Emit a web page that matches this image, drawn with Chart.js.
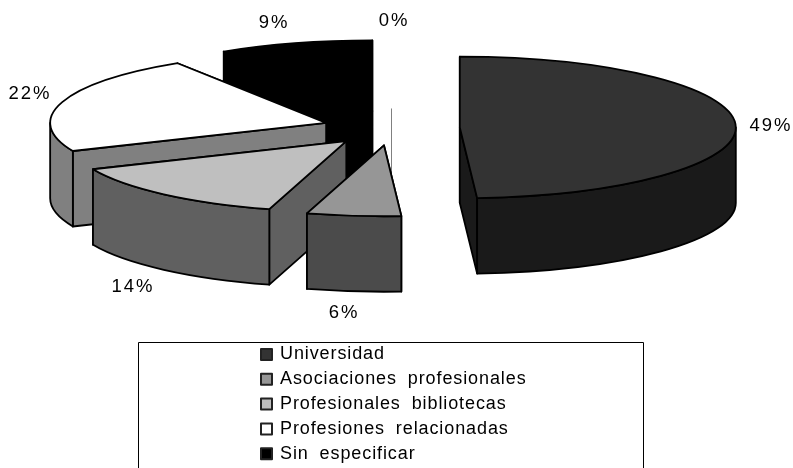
<!DOCTYPE html>
<html>
<head>
<meta charset="utf-8">
<style>
  html, body { margin: 0; padding: 0; background: #fff; }
  canvas { display: block; }
</style>
<script src="https://cdn.jsdelivr.net/npm/chart.js@4"></script>
</head>
<body>
<canvas id="myChart" width="793" height="468"></canvas>
<script>
// Datos (las etiquetas muestran el valor redondeado)
const categories = ['Universidad', 'Asociaciones profesionales', 'Profesionales bibliotecas', 'Profesiones relacionadas', 'Sin especificar', ''];
const values = [49, 5.5, 14, 22.45, 9.05, 0];

// Colores de la cara superior y del lateral
const topColors = ['#333333', '#969696', '#bfbfbf', '#ffffff', '#000000', '#808080'];
const sideColors = ['#1a1a1a', '#4b4b4b', '#606060', '#808080', '#000000', '#808080'];

// Posicion de las etiquetas de porcentaje (centro del texto)
const labelPos = [[771, 126], [344, 313], [133, 287], [30, 94], [274, 23], [394, 21]];

// Geometria de la tarta "3D" en pantalla
const pie3d = { cx: 391.5, cy: 128, rx: 276, ry: 70.8, depth: 75.5 };
const explode = 155;

const legendBox = { left: 138, top: 342, right: 643, bottom: 469 };
const legendRows = { swatchX: 261, textX: 280, firstY: 354.5, step: 24.8, swatch: 11 };

const FONT = '"Liberation Sans", Arial, sans-serif';

// Convierte un arco de Chart.js en sus puntos en pantalla
function slice3d(arc) {
  const sx = pie3d.rx / arc.outerRadius;
  const sy = pie3d.ry / arc.outerRadius;
  const mid = (arc.startAngle + arc.endAngle) / 2;
  const off = arc.options.offset / 4;
  const ax = pie3d.cx + Math.cos(mid) * off * sx;
  const ay = pie3d.cy + Math.sin(mid) * off * sy;
  const point = a => [ax + Math.cos(a) * pie3d.rx, ay + Math.sin(a) * pie3d.ry];
  return { ax, ay, start: arc.startAngle, end: arc.endAngle, point };
}

function drawCutFace(ctx, s, corner, fill) {
  const d = pie3d.depth;
  ctx.beginPath();
  ctx.moveTo(s.ax, s.ay);
  ctx.lineTo(corner[0], corner[1]);
  ctx.lineTo(corner[0], corner[1] + d);
  ctx.lineTo(s.ax, s.ay + d);
  ctx.closePath();
  ctx.fillStyle = fill;
  ctx.fill();
  ctx.stroke();
}

function drawSlice(ctx, s, top, side) {
  const d = pie3d.depth;
  ctx.lineWidth = 1.8;
  ctx.lineJoin = 'round';
  ctx.strokeStyle = '#000';

  // caras de corte: primero la de atras
  const corners = [s.point(s.start), s.point(s.end)].sort((a, b) => a[1] - b[1]);
  corners.forEach(c => drawCutFace(ctx, s, c, side));

  // lateral curvo, solo la parte que mira hacia delante
  const from = Math.max(s.start, 0);
  const to = Math.min(s.end, Math.PI);
  if (to > from) {
    ctx.beginPath();
    ctx.ellipse(s.ax, s.ay, pie3d.rx, pie3d.ry, 0, from, to);
    ctx.ellipse(s.ax, s.ay + d, pie3d.rx, pie3d.ry, 0, to, from, true);
    ctx.closePath();
    ctx.fillStyle = side;
    ctx.fill();
    ctx.stroke();
  }

  // cara superior
  ctx.beginPath();
  ctx.moveTo(s.ax, s.ay);
  ctx.ellipse(s.ax, s.ay, pie3d.rx, pie3d.ry, 0, s.start, s.end);
  ctx.closePath();
  ctx.fillStyle = top;
  ctx.fill();
  ctx.stroke();
}

const pie3dPlugin = {
  id: 'pie3d',
  beforeDatasetDraw() {
    return false; // la tarta plana no se pinta, se pinta abajo
  },
  afterDatasetsDraw(chart) {
    const ctx = chart.ctx;
    const arcs = chart.getDatasetMeta(0).data;
    const slices = arcs.map((arc, i) => ({ i, s: slice3d(arc) }));
    slices.sort((a, b) => a.s.ay - b.s.ay);

    ctx.save();
    slices.forEach(({ i, s }) => {
      if (values[i] === 0) {
        // sector de 0%: solo se ve una linea fina
        ctx.beginPath();
        ctx.moveTo(s.ax, s.ay - 2);
        ctx.lineTo(s.ax, s.ay + pie3d.depth);
        ctx.lineWidth = 1;
        ctx.strokeStyle = sideColors[i];
        ctx.stroke();
      } else {
        drawSlice(ctx, s, topColors[i], sideColors[i]);
      }
    });

    // etiquetas
    ctx.font = '18.5px ' + FONT;
    ctx.letterSpacing = '2px';
    ctx.fillStyle = '#000';
    ctx.textAlign = 'center';
    ctx.textBaseline = 'middle';
    values.forEach((v, i) => {
      ctx.fillText(Math.round(v) + '%', labelPos[i][0], labelPos[i][1]);
    });

    // leyenda
    ctx.strokeStyle = '#000';
    ctx.lineWidth = 1;
    ctx.beginPath();
    ctx.moveTo(legendBox.left + 0.5, legendBox.bottom);
    ctx.lineTo(legendBox.left + 0.5, legendBox.top + 0.5);
    ctx.lineTo(legendBox.right + 0.5, legendBox.top + 0.5);
    ctx.lineTo(legendBox.right + 0.5, legendBox.bottom);
    ctx.stroke();

    ctx.textAlign = 'left';
    ctx.font = '18px ' + FONT;
    ctx.letterSpacing = '0.9px';
    ctx.wordSpacing = '5px';
    categories.forEach((name, i) => {
      if (!name) return;
      const y = legendRows.firstY + i * legendRows.step;
      const b = legendRows.swatch;
      ctx.fillStyle = topColors[i];
      ctx.lineWidth = 2;
      ctx.strokeStyle = '#222';
      ctx.fillRect(legendRows.swatchX, y - b / 2, b, b);
      ctx.strokeRect(legendRows.swatchX, y - b / 2, b, b);
      ctx.fillStyle = '#000';
      ctx.fillText(name, legendRows.textX, y);
    });
    ctx.restore();
  }
};

const ctx = document.getElementById('myChart').getContext('2d');
const myChart = new Chart(ctx, {
  type: 'pie',
  data: {
    labels: categories,
    datasets: [{
      data: values,
      backgroundColor: topColors,
      borderWidth: 0,
      offset: explode
    }]
  },
  options: {
    responsive: false,
    animation: false,
    plugins: {
      legend: { display: false },
      tooltip: { enabled: false }
    }
  },
  plugins: [pie3dPlugin]
});
</script>
</body>
</html>
